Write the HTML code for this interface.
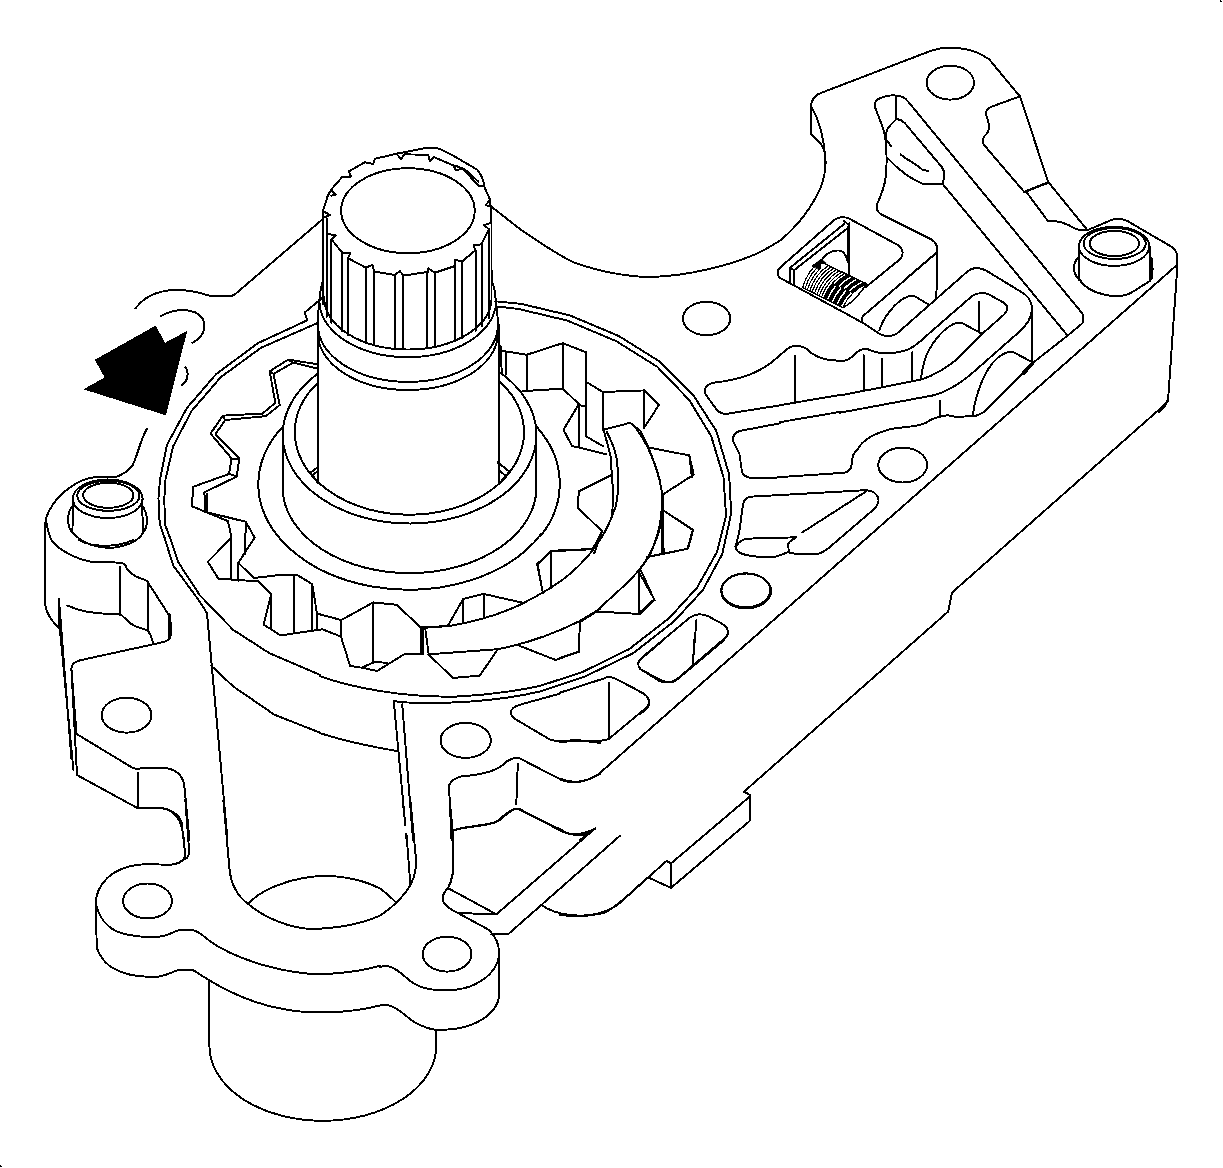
<!DOCTYPE html>
<html><head><meta charset="utf-8">
<style>
html,body{margin:0;padding:0;background:#fff;font-family:"Liberation Sans",sans-serif;}
svg{display:block}
.z{fill:none;stroke:#000;stroke-width:7.6;stroke-linejoin:round;stroke-linecap:round}
.z6{fill:none;stroke:#000;stroke-width:11.4;stroke-linejoin:round;stroke-linecap:round}
.s{fill:none;stroke:#000;stroke-width:1.95;stroke-linejoin:round;stroke-linecap:round}
</style></head><body>
<svg width="1223" height="1168" viewBox="0 0 1223 1168" shape-rendering="crispEdges">
<rect width="1223" height="1168" fill="#fff"/>

<!-- SHAFT TOP: region [310,140] x5.84 -->
<g class="z6" transform="translate(310,140) scale(0.17123)">
<ellipse cx="572" cy="413" rx="390" ry="248"/>
<path d="M80,450 L75,415 L118,438 L88,448 M75,415 L103,328 L122,292 L150,318 L124,326 M122,292 L190,214 L240,214 L226,184 L320,130 L370,140 L378,110 L505,80 L532,112 L550,84 L690,86 L700,125 L725,100 L840,150 L850,176 L890,168 L965,245 L985,268 L1015,266 L1050,345 L1055,385 L1025,382 L1050,350"/>
<path d="M505,80 L670,48 L745,48 C800,65 900,130 975,172 C1000,200 1012,230 1017,262"/>
<path d="M850,150 L905,172 L985,245"/>
<path d="M105,550 L150,555 L125,580 L190,660 L235,660 L222,690 L325,745 L365,730 L375,768 L495,788 L525,765 L545,792 L690,770 L692,750 L730,775 L850,735 L845,700 L890,708 L965,645 L955,612 L1000,610 L1045,520 L1015,498 L1055,485 L1058,385"/>
</g>

<g class="z6" transform="translate(310,140) scale(0.17123)">
<path d="M75,415 L75,960 M97,455 L97,1033 M125,578 L125,1068 M185,660 L185,1118 M222,690 L222,1141 M325,745 L325,1183 M372,768 L372,1196 M495,788 L495,1216 M545,792 L545,1219 M683,770 L683,1213 M730,775 L730,1206 M848,735 L848,1174 M888,708 L888,1159 M968,645 L968,1114 M1005,612 L1005,1085 M1045,520 L1045,1040 M1060,385 L1060,960"/>
</g>
<!-- SHOULDER: region [300,270] x5.559 -->
<g class="z6" transform="translate(300,270) scale(0.17989)" style="stroke-width:10.8">
<path d="M130,0 L130,50 C118,90 110,130 108,165 C104,200 100,250 100,300 M1065,0 L1065,50 C1078,90 1087,130 1090,180 C1095,220 1100,260 1100,300"/>
<path d="M135,150 A465,287 0 0 0 1065,160"/>
<path d="M108,165 A491,312 0 0 0 1090,180"/>
<path d="M100,303 A500,314 0 0 0 1100,313"/>
<path d="M100,348 A500,314 0 0 0 1100,358"/>
</g>
<!-- COLLAR: region [240,380] x3.822 -->
<g class="z" transform="translate(240,380) scale(0.26165)">
<path d="M298,-215 L298,390 M990,-210 L990,395"/>
<path d="M298,10 A438,315 0 0 0 209.5,200 A438,315 0 0 0 1085.5,200 A438,315 0 0 0 990,4"/>
<path d="M298,-25 A485,340 0 0 0 163,212 A485,340 0 0 0 1133,205 A485,340 0 0 0 990,-31"/>
<path d="M163,212 L163,415 A485,328 0 0 0 1133,405 L1133,205"/>
<path d="M160,182 A575,405 0 0 0 70,400 A575,405 0 0 0 1150,590 M1133,178 A575,405 0 0 1 1222,400 A575,405 0 0 1 1150,595"/>
<path d="M272,352 L297,333 M278,364 L297,348 M278,364 L297,392 M985,315 L1030,350 L1000,385 M990,345 L1015,366"/>
</g>

<!-- G_A: region [30,280] x3.893 : arrow, bolt, ring-left, teeth -->
<g class="z" transform="translate(30,280) scale(0.25688)">
<path d="M410,111 C430,85 460,62 490,52 C520,42 550,37 581,38 C610,40 630,44 651,48 C680,55 695,62 714,64 L770,64 C785,63 792,60 799,55 L1142,-239"/>
<path d="M508,142 C560,110 640,105 672,150 C690,190 670,225 632,245"/>
<path d="M605,340 C620,360 615,395 590,410"/>
<path d="M455,580 C430,620 420,680 400,720 C380,750 350,760 340,765 L250,768 C190,775 100,830 65,920 C58,940 58,960 58,980 L58,1168"/>
<path d="M62,930 C66,960 73,990 83,1012"/>
<ellipse cx="302.5" cy="851.5" rx="136" ry="75"/>
<ellipse cx="305" cy="840" rx="121" ry="58.5"/>
<ellipse cx="305" cy="838" rx="98" ry="48.7"/>
<path d="M168,855 L165,980 C200,1030 280,1050 340,1040 C390,1030 425,1010 440,985 L436,855"/>
<path d="M166,880 C140,910 145,960 165,985 M438,880 C465,920 458,960 440,985"/>
<path d="M1135,72 L1070,126 L1079,157 L887,246 L725,366 L611,498 L533,642 L506,779 L500,850 L505,950 L527,1012"/>
<path d="M1118,168 L899,264 L743,378 L629,510 L557,648 L527,779 L523,850 L525,950 L548,1012"/>
<path d="M1120,328 L1005,310 L933,355 L955,478 L905,520 L750,528 L703,598 L785,695 L775,755"/>
<path d="M1120,345 L1025,322 L948,365 L972,487 L918,530 L760,545 L722,600 L815,695 L805,765"/>
<path d="M1005,310 L1025,322 M933,355 L948,365 M750,528 L760,545 M785,695 L815,695 M775,755 L805,765"/>
</g>

<!-- G_E: region [480,300] x3.893 : ring right, teeth, crescent -->
<g class="z" transform="translate(480,300) scale(0.25688)">
<path d="M60,5 L160,15 L350,60 L540,140 L700,240 L830,370 L920,510 L970,680"/>
<path d="M65,25 L150,35 L340,80 L530,160 L690,260 L815,390 L900,530 L948,690"/>
<ellipse cx="882" cy="72" rx="92" ry="65"/>
<path d="M1168,215 C1100,280 1020,310 910,322 C880,330 865,350 880,370 L920,425 C935,445 960,445 980,440 L1168,410"/>
<path d="M1168,480 L1010,510 C985,520 980,540 990,560 L1010,600 L1020,670 C1030,695 1060,700 1168,690"/>
<ellipse cx="1035" cy="1130" rx="95" ry="66"/>
<path d="M75,195 L100,200 L182,213 L322,168 L412,203 L412,318 L478,358 L640,352 L697,408 L637,500"/>
<path d="M100,200 L100,290 M182,213 L182,355 M322,168 L322,345 M412,203 L412,530 M478,358 L478,505 M637,352 L637,500 M80,180 L85,290"/>
<path d="M165,355 L322,345 L385,405 L325,505 L358,568 L490,600 M385,405 L385,572 M412,530 L480,570 M385,408 L412,416"/>
<path d="M480,505 L585,478 L625,510 C660,575 700,680 710,760 C712,850 690,940 650,1010 C620,1060 560,1115 500,1168"/>
<path d="M493,513 C510,545 525,580 531,612 C538,660 540,700 537,740 C536,765 533,785 528,803 C522,822 516,838 509,854 C500,875 490,897 477,918 C465,938 450,958 436,975"/>
<path d="M482,507 L508,606 L518,746 L515,835 M600,490 C640,540 680,620 700,700"/>
<path d="M660,575 L815,605 L832,680 L715,755 M815,605 L825,690 M710,760 L710,985 M715,820 L830,895 L810,968 L650,1000 M619,1050 L619,1168 M619,1060 L680,1168"/>
<path d="M385,745 L515,680 M385,745 L380,808 L475,900 L440,970 L278,978 L222,1028 L245,1140 M278,978 L278,1120 M475,900 L445,985"/>
</g>

<!-- G_TR: region [780,30] x3.893 : top-right plate outline, hole, spring pocket -->
<g class="z" transform="translate(780,30) scale(0.25688)">
<path d="M0,820 C60,770 120,700 160,610 C178,560 180,520 175,480 C165,440 145,430 120,405 L120,300 C122,270 140,250 165,243 L590,80 C650,60 750,65 815,115 L935,260 L1045,595"/>
<path d="M122,300 C150,345 172,420 178,520"/>
<ellipse cx="663" cy="205" rx="92" ry="66"/>
<path d="M0,965 C-12,955 -12,935 1,924 L213,738 C238,722 260,727 280,740 L455,835 C480,850 482,870 470,890 L335,1000"/>
<path d="M270,752 L270,952 M40,925 L250,755 M55,935 L265,770 M40,925 L40,985 M55,935 L55,995 M40,925 L55,935"/>
<path d="M0,965 L234,1092"/>
</g>
<!-- G_CH: region [860,80] x5.84 : channel + notch -->
<g class="z6" transform="translate(860,80) scale(0.17123)">
<path d="M212,92 C180,82 150,95 120,105 C95,115 82,135 88,160 C110,220 140,280 148,340 C155,400 160,480 150,570 C140,640 115,690 100,725 C92,750 100,770 125,785 L415,930 C440,945 450,960 450,985 L450,1168"/>
<path d="M212,92 L212,230 M212,92 C240,90 260,100 280,125 L1290.6,1353.7"/>
<path d="M212,230 C230,228 245,235 260,250 L475,505 C490,520 492,540 490,560 L485,610 L1212.4,1492.7"/>
<path d="M212,230 C190,250 165,270 155,300 L150,340 M150,345 L183,388 M155,450 C220,520 300,580 365,605 L485,610"/>
<path d="M237,435 C280,470 330,490 365,525 L400,532"/>
<path d="M935,95 L770,155 C745,165 730,180 738,210 C755,250 760,290 740,315 C715,335 710,355 725,380 L960,655 L1100,600"/>
<path d="M450,1005 L260,1168"/>
</g>

<!-- G_R: region [923,150] x3.893 : right bolt, boss, pockets -->
<g class="z" transform="translate(923,150) scale(0.25688)">
<path d="M640,312 L740,270 C770,265 790,270 810,285 L965,375 C985,390 992,400 990,430 L990,455 L955,960 C950,990 940,1000 920,1020"/>
<path d="M488,125 L640,312 M400,160 L488,125 M400,160 L485,275 C530,275 560,285 590,305 C610,315 625,314 640,312"/>
<path d="M615,630 C625,640 628,660 620,675 L563,722.5"/>
<ellipse cx="744" cy="375" rx="137" ry="76"/>
<ellipse cx="746" cy="364" rx="121" ry="60"/>
<ellipse cx="745" cy="364" rx="96" ry="49"/>
<path d="M607,375 L607,500 C640,560 760,590 820,550 L883,510 L883,375 M890,420 L890,500"/>
<path d="M602,420 C580,450 585,480 607,505 M885,420 C897,450 897,480 885,510"/>
</g>

<!-- long lines in source coords -->
<g class="s">
<path d="M1176.5,265.4 L599.3,773.5"/>
<path d="M1168.3,396.6 L1167.6,401.5 L1162,407 L951.9,592.7 L948.2,611.5 L743.9,791.8"/>
</g>

<!-- G_P: region [840,250] x5.84 : pockets middle-right -->
<g class="z6" transform="translate(840,250) scale(0.17123)">
<path d="M560,20 L135,385 C120,400 125,420 140,430 L230,490 C260,505 300,505 330,490 L745,125 C770,105 810,100 850,118 L1050,240 C1100,265 1120,300 1122,340 L1122,655"/>
<path d="M566,170 L562,280 M0,352 L140,430"/>
<path d="M230,470 C250,400 320,300 400,270 C420,265 440,270 450,278 L520,320"/>
<path d="M0,650 C40,650 70,630 95,600 C120,580 150,570 175,585 C230,610 320,610 400,580 C440,560 470,535 500,505 L770,270 C800,250 840,245 870,260 L960,310 C985,330 980,355 960,375 L830,490 L720,430 C690,420 660,430 640,445 C560,500 500,600 485,680 L470,760"/>
<path d="M812,300 L812,480 M830,490 L680,640 C620,690 550,730 480,755 L0,850 M140,615 L140,820 M245,635 L245,800 M422,598 L422,768"/>
<path d="M1122,340 C1120,400 1090,440 1050,475 L760,730 C700,780 620,830 540,850 L0,950"/>
<path d="M585,880 L585,970 M100,1168 C130,1110 200,1070 300,1045 C400,1030 470,1030 500,1010 C530,985 560,975 630,965 L680,975 L775,970 C800,970 820,960 840,945 L1125,660 L1329.2,500"/>
<path d="M775,970 C790,850 840,700 920,630 C960,600 990,590 1010,595 L1122,655"/>
<path d="M1120,668 L1072,718" style="stroke-width:22"/>
</g>

<!-- G_M: region [690,230] x3.893 : middle pockets left part, spring -->
<g class="z" transform="translate(690,230) scale(0.25688)">
<path d="M350,487 C360,480 365,475 370,470 C390,450 420,445 450,460 C490,500 540,510 584,508"/>
<path d="M350,682 L584,642 M408,490 L408,670 M350,748 L584,708"/>
<path d="M350,962 L600,945 C625,940 630,925 632,890 C634,875 640,865 650,856"/>
<ellipse cx="828" cy="915" rx="95" ry="68"/>
</g>
<!-- G_MB: region [640,480] x3.893 -->
<g class="z" transform="translate(640,480) scale(0.25688)">
<path d="M347,-21 L355,130 L320,290 L308,311 M325,-11 L335,140 L300,280 L282,311"/>
<ellipse cx="413" cy="432" rx="97" ry="68"/>
<path d="M5,693 L195,535 C215,520 245,520 265,530 L320,560 C345,575 348,595 335,612 L150,770 C130,790 100,792 75,782 L0,735 M220,545 L205,720"/>
<path d="M0,825 C30,835 45,860 30,885 C20,900 10,905 0,910"/>
<path d="M88,50 L92,285 M90,118 L205,195 L185,268 L30,300 M85,110 L75,200 L40,290 L0,345 M0,345 L55,465 L0,515"/>
</g>

<!-- G_P3: region [720,480] x7.644 : pocket 3 -->
<g class="z" transform="translate(720,480) scale(0.13082)" style="stroke-width:15">
<path d="M175,190 C180,150 210,130 245,127 L1110,78 C1170,80 1210,110 1212,160 C1210,185 1195,205 1175,225 L830,520 C800,545 770,562 740,565 L600,568 L520,552 L430,585 L310,590 C250,580 190,580 150,555 C120,535 112,510 125,490 L150,380 Z"/>
<path d="M130,500 C140,470 180,450 220,448 L585,438 C550,455 520,475 520,500 L528,550 M1120,85 L630,400"/>
</g>

<!-- G_SP: region [780,220] x10.19 : spring -->
<g class="z" transform="translate(780,220) scale(0.09813)" style="stroke-width:12">
<path d="M410,425 Q280,512 230,690 M438,438 Q306,525 254,702 M465,451 Q332,538 278,714 M493,465 Q358,550 302,725 M521,478 Q384,562 326,737 M548,491 Q409,575 351,749 M576,504 Q435,588 375,761 M604,518 Q461,600 399,772 M631,531 Q487,612 423,784 M659,544 Q513,625 447,796 M686,557 Q539,638 471,808 M714,571 Q565,650 495,819 M742,584 Q591,662 519,831 M769,597 Q616,675 544,843 M797,610 Q642,688 568,855 M825,624 Q668,700 592,866 M852,637 Q694,712 616,878 M880,650 Q720,725 640,890 "/>
<path d="M546,654 Q492,717 459,802 M700,564 Q626,604 572,666 M598,679 Q542,741 507,825 M756,590 Q680,630 624,691 M649,704 Q592,765 556,849 M811,617 Q733,655 675,716 M701,729 Q642,789 604,872 M866,643 Q787,681 727,741 " style="stroke-width:16"/>
<path d="M410,422 L880,652 M230,690 L640,892 C700,870 820,760 880,652" style="stroke-width:15"/>
<path d="M330,470 L420,400 L470,440 L400,500 Z" style="fill:#000;stroke-width:10"/>
<rect x="418" y="452" width="42" height="34" style="fill:#fff;stroke:none"/>
<path d="M430,400 C470,340 540,310 600,310 C660,320 680,370 690,430 M430,400 L335,470" style="stroke-width:19"/>
<path d="M688,75 L688,400 M650,10 L690,40 L710,40" style="stroke-width:19"/>
</g>

<!-- G_L: region [20,540] x3.893 : left body -->
<g class="z" transform="translate(20,540) scale(0.25688)">
<path d="M97,0 L97,240 C100,290 130,320 152,345"/>
<path d="M122,0 C150,40 220,75 280,85 L385,88 C405,90 415,100 415,110 L440,135 C460,150 480,150 495,160 L575,285 C585,300 587,320 587,340 L587,370 C585,385 575,392 560,397 L235,468 C210,475 200,485 200,500 L220,755"/>
<path d="M230,0 C280,30 380,30 440,0"/>
<path d="M390,105 L390,290 M498,165 L498,350"/>
<path d="M581,290 L581,385" style="stroke-width:10.5"/>
<path d="M183,255 C230,275 300,290 370,287 L395,292 L430,325 C460,345 480,345 498,352 C510,370 515,385 518,400"/>
<path d="M152,228 L152,345 M152,235 L200,850 M155,345 L208,895 M200,500 L222,915"/>
<ellipse cx="415" cy="682" rx="97" ry="68"/>
<path d="M220,755 L440,888 C455,893 465,890 480,888 L570,888 C610,895 635,915 640,960 L660,1168"/>
<path d="M222,915 L460,1045 L545,1042 C600,1050 630,1080 638,1168 M460,905 L460,1040"/>
<path d="M728,285 L808,1168"/>
<path d="M565,0 L597,100 L700,240 L728,285 M587,0 L615,85 L700,215 L830,350 L970,440 L1168,525"/>
<path d="M745,490 L830,570 L990,680 L1168,750"/>
</g>

<!-- G_T: region [180,480] x7.3 : left teeth -->
<g class="z" transform="translate(180,480) scale(0.13699)" style="stroke-width:14.4">
<path d="M358,-44 L95,50 L88,192 L350,300 L375,415 M372,425 L203,597 L280,720 L570,740 L665,835 L610,1055 L735,1135 L830,1120 L1040,1090 L1168,1140"/>
<path d="M414,-25 L178,90 L185,235 M195,100 L200,235 M185,232 L480,305 L545,420 L425,605 L540,715 L760,690 L850,690 L965,760 L1000,975 L1168,1020"/>
<path d="M480,305 L475,540 M375,400 L375,725 M425,605 L425,735 M665,835 L665,1085 M830,700 L830,1120 M965,760 L965,1100 M1000,975 L1000,1090"/>
</g>

<!-- G_C: region [300,540] x3.893 : bottom teeth, crescent tip, ring bottom -->
<g class="z" transform="translate(300,540) scale(0.25688)">
<path d="M160,312 L285,243 L375,252 L470,340 L575,335 L635,230 L715,210 L870,245"/>
<path d="M160,378 L195,490 L240,497 L290,475 M160,312 L160,378 M285,243 L285,475 M240,497 L300,510 L410,442 L470,445 M290,475 L340,478 M470,340 L470,445 M480,342 L480,445 M488,348 L501,445 M635,230 L635,325 M715,210 L715,300 M500,445 L595,537 L700,528 L770,425"/>
<path d="M480,342 L580,335 C700,315 800,280 865,248 C930,215 990,180 1034,146 C1080,110 1115,70 1139,41"/>
<path d="M500,445 L770,425 C900,400 1000,360 1090,315 L1168,268"/>
<path d="M925,95 L978,42 L1135,35 L1168,0 M925,95 L945,205 M978,42 L978,185"/>
<path d="M850,410 L995,467 L1085,435 L1090,315"/>
<path d="M78,530 C200,575 400,612 600,610 C720,605 830,590 934,568"/>
<path d="M365,627 L400,632 C600,640 780,625 934,590"/>
<path d="M365,627 L410,1110 M412,1145 L415,1168 M398,640 L440,1168"/>
<path d="M78,752 C150,775 260,802 380,822"/>
<ellipse cx="645" cy="780" rx="98" ry="68"/>
<path d="M1012,598 L860,640 C840,645 820,655 820,675 C825,690 840,700 860,710 L970,775 C1000,790 1050,780 1075,778 L1168,790"/>
<path d="M590,1168 L580,955 C590,935 605,925 630,920 C700,915 760,900 790,875 C810,855 835,845 855,850 L1020,935 C1060,950 1110,945 1168,910 M848,870 L842,1030"/>
<path d="M590,1135 C620,1115 700,1115 760,1100 C790,1080 810,1050 845,1045 L1020,1130 C1050,1150 1080,1150 1100,1150 L1148,1125 L1090,1168"/>
</g>

<!-- G_BL: region [80,800] x3.893 : bottom-left flange, cylinder -->
<g class="z" transform="translate(80,800) scale(0.25688)">
<path d="M165,0 L230,33 L310,30 C350,35 385,55 395,85 L410,215 C405,235 385,250 350,252 L265,250 C200,250 140,270 105,305 C75,335 62,365 62,400 L65,570 C70,600 100,640 130,655 C180,685 250,690 300,688 C340,685 370,660 400,660 L440,662 L500,700"/>
<path d="M225,0 L225,30 M410,0 L425,200 C425,215 420,225 410,230"/>
<path d="M62,400 C70,450 100,490 140,510 C200,535 300,540 340,525 C365,515 380,505 400,505 L440,507 C470,515 480,530 500,545 C600,620 800,680 950,678 C1050,672 1120,660 1168,645"/>
<path d="M500,700 C600,760 700,800 800,815 C900,835 1050,830 1168,800"/>
<ellipse cx="263" cy="393" rx="95" ry="68"/>
<path d="M558,0 L582,270 C590,340 620,380 655,405 M655,405 C700,350 820,300 950,295 C1050,297 1120,320 1168,345 M655,405 C720,460 820,500 900,502 C1000,500 1100,480 1168,450"/>
</g>
<!-- G_BM: region [350,800] x3.893 : bottom-middle -->
<g class="z" transform="translate(350,800) scale(0.25688)">
<path d="M205,0 L215,95 M220,135 L235,330 M235,0 L258,240 C255,300 240,340 180,400"/>
<path d="M117,345 C140,360 160,380 180,400 C160,420 140,435 117,450"/>
<path d="M388,0 L400,120 L402,260 C400,310 385,340 375,350 C360,370 355,385 365,400 C380,420 400,430 420,440 L540,505 C565,530 580,555 580,590 L580,770 C570,820 520,865 440,885 C400,895 350,895 335,895"/>
<path d="M400,120 C440,100 520,110 580,80 C610,55 635,30 660,35 L830,125 C870,140 910,135 955,110 L570,445 L385,345 M420,440 L570,445"/>
<path d="M1050,140 L615,523 L550,523"/>
<path d="M745,408 C800,450 900,460 990,440 C1050,410 1100,350 1168,295"/>
<ellipse cx="378" cy="600" rx="95" ry="68"/>
<path d="M117,652 C125,645 133,645 140,645 C190,655 210,690 250,715 C300,745 400,750 470,725 C530,700 570,660 580,610"/>
<path d="M117,800 C125,797 133,797 140,797 C190,805 215,845 260,870 C290,885 310,892 335,895"/>
</g>
<!-- G_BR: region [560,640] x3.893 : bottom-right -->
<g class="z" transform="translate(560,640) scale(0.25688)">
<path d="M153,520 C100,557 50,560 0,540"/>
<path d="M715,590 L738,602 L738,705 L432,965 L345,925 M738,610 L432,870 M415,860 L432,870 L432,965"/>
<path d="M0,1070 C100,1085 170,1065 220,1035 L415,860"/>
<path d="M0,205 L170,150 C190,140 210,145 225,155 L320,205 C345,220 352,240 340,260 L190,385 C150,400 100,395 60,392 L0,398 M190,165 L190,380"/>
<path d="M403,0 L320,70 C300,85 300,100 315,115 L390,155 C420,170 445,165 460,150 L640,0 M522,0 L518,95"/>
<path d="M75,0 L75,45 L0,70"/>
</g>

<g class="s">
<path d="M491,206.3 L519.2,228.5 C540,243 560,256 574.2,262.5 C600,272 630,277 650,277 C690,276 730,265 754.7,254.5 C765,250 773,245 780,240.6"/>
</g>
<rect x="1220" y="0" width="1" height="2" fill="#000"/><rect x="1221" y="1" width="1" height="1" fill="#000"/>
<rect x="0" y="1165" width="1" height="2" fill="#000"/><rect x="1" y="1166" width="1" height="1" fill="#000"/>

<g class="s">
<path d="M209.4,980 L209.4,1046 A113.4,74.8 0 0 0 436.2,1046 L436.2,1030"/>
</g>

<!-- G_RB: region [540,560] x6.115 : ring bottom-right -->
<g class="z" transform="translate(540,560) scale(0.16353)" style="stroke-width:12">
<path d="M1095,0 L995,185 L820,375 L570,570 L280,710 L0,805 M1055,0 L960,170 L790,355 L545,545 L260,685 L0,770"/>
<path d="M700,240 L610,330 L345,315 M605,245 L605,325 M418,245 L345,315 L245,380"/>
</g>

<polygon points="155.6,325.6 165.1,342.8 187.2,330.9 165.9,415.3 83.4,389.3 104.7,377.4 94.8,359.8" fill="#000" stroke="none" shape-rendering="crispEdges"/>
<!-- INSERT_MORE -->
</svg>
</body></html>
